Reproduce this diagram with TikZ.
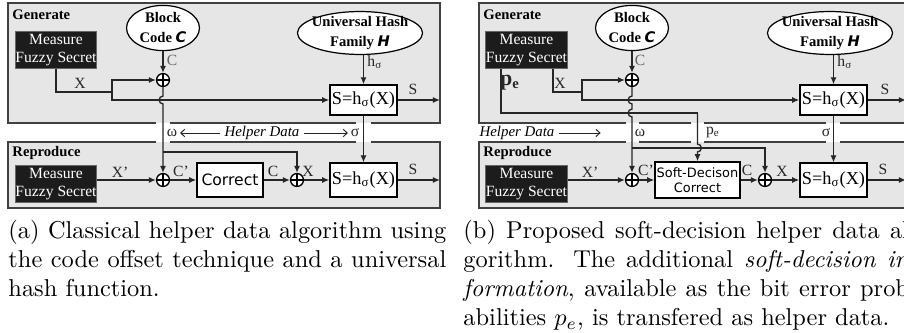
\documentclass[tikz,border=0pt]{standalone}
\usepackage{fontspec}
\usepackage{xcolor}
\usetikzlibrary{shapes.geometric,arrows.meta}
\newfontfamily\tms{Liberation Serif}
\newfontfamily\dvs{DejaVu Sans}
\definecolor{panelgray}{HTML}{E6E6E6}
\definecolor{boxblack}{HTML}{1C1C1C}
\newcommand{\FGen}{\fontsize{6}{7}\selectfont\tms\bfseries}
\newcommand{\FEll}{\fontsize{6}{8.2}\selectfont\tms\bfseries}
\newcommand{\FMea}{\fontsize{6.4}{7.4}\selectfont\tms}
\newcommand{\FSh}{\fontsize{7.5}{9}\selectfont\tms}
\newcommand{\FLab}{\fontsize{6.4}{7.5}\selectfont\tms}
\newcommand{\FHlp}{\fontsize{6.1}{7}\selectfont\tms\itshape}
\newcommand{\FCor}{\fontsize{6.4}{7.5}\selectfont\dvs}
\newcommand{\FSoft}{\fontsize{5.3}{6.4}\selectfont\dvs}
\newcommand{\FCap}{\fontsize{10}{12}\selectfont}
\newcommand{\KC}{{\dvs\bfseries\itshape C}}
\newcommand{\KH}{{\dvs\bfseries\itshape H}}

\begin{document}
\begin{tikzpicture}[x=0.41pt,y=-0.41pt]
\tikzstyle{panelline}=[draw=black!75,line width=0.6pt]
\tikzstyle{paneltitle}=[anchor=west,inner sep=0pt,font=\FGen]
\tikzstyle{measure}=[fill=boxblack,draw=black!60,text=white,align=center,inner sep=0pt,minimum width=33.6pt,minimum height=14.8pt,font=\FMea]
\tikzstyle{ellbox}=[ellipse,draw=black,fill=white,line width=0.5pt,inner sep=0pt]
\tikzstyle{elltext}=[align=center,inner sep=0pt,font=\FEll]
\tikzstyle{xor}=[circle,draw=black,fill=white,line width=0.55pt,inner sep=0pt,minimum size=5.3pt,
  path picture={\draw[line width=0.55pt] (path picture bounding box.north) -- (path picture bounding box.south)
  (path picture bounding box.west) -- (path picture bounding box.east);}]
\tikzstyle{hashbox}=[draw=black,fill=white,line width=0.55pt,inner sep=0pt,minimum width=27.5pt,font=\FSh]
\tikzstyle{corr}=[draw=black,fill=white,line width=0.55pt,inner sep=0pt,align=center]
\tikzstyle{lab}=[inner sep=0pt,font=\FLab,text=black!85]
\tikzstyle{sig}=[draw=black!85,line width=0.55pt]
\tikzstyle{arr}=[sig,-{Latex[length=2.9pt,width=2.5pt]}]
\tikzstyle{hlparr}=[draw=black!85,line width=0.4pt,-{Straight Barb[length=1.6pt,width=3pt]},shorten <=1.5pt,shorten >=1pt]
\tikzstyle{capt}=[anchor=base west,inner sep=0pt,align=justify,font=\FCap]

\useasboundingbox (0,0) rectangle (904,333);
\clip (0,0) rectangle (904,333);
\fill[white] (0,0) rectangle (904,333);

% ---- (a) classical ----
\fill[panelgray] (8,3) rectangle (440,123);
\fill[panelgray] (8,142) rectangle (440,208);
\draw[panelline] (156,123) -| (8,3) -| (440,123) -- (371,123) (356,123) -- (170,123);
\draw[panelline] (156,142) -| (8,208) -| (440,142) -- (371,142) (356,142) -- (170,142);

\node[paneltitle] (a-gen) at (12,15) {Generate};
\node[paneltitle] (a-rep) at (12,153) {Reproduce};
\node[measure] (a-m1) at (56,50) {Measure\\Fuzzy Secret};
\node[measure] (a-m2) at (56,184) {Measure\\Fuzzy Secret};
\node[ellbox,minimum width=29.9pt,minimum height=18.5pt] (a-bc) at (163,28) {};
\node[elltext] (a-bct) at (163,28) {Block\\Code \KC};
\node[ellbox,minimum width=51.3pt,minimum height=17.6pt] (a-uh) at (360,33) {};
\node[elltext] (a-uht) at (360,33) {Universal Hash\\Family \KH};
\node[xor] (a-x1) at (163,80) {};
\node[hashbox,minimum height=12.3pt] (a-s1) at (363.5,100) {S=h\textsubscript{σ}(X)};
\node[xor] (a-x2) at (163,180) {};
\node[corr,minimum width=27.1pt,minimum height=13.9pt,font=\FCor] (a-cor) at (230,180) {Correct};
\node[xor] (a-x3) at (297,180) {};
\node[hashbox,minimum height=13.9pt] (a-s2) at (363.5,180) {S=h\textsubscript{σ}(X)};

\coordinate (a-xs) at (112,92);
\coordinate (a-j1) at (163,100);
\coordinate (a-br) at (163,152);
\coordinate (a-o1) at (440,100);
\coordinate (a-o2) at (440,180);

\draw[arr] (a-bc) -- (a-x1);
\draw[sig] (a-m1.south) |- (a-xs);
\draw[arr] (a-xs) |- (a-x1);
\draw[arr] (a-xs) |- (a-s1);
\draw[arr] (a-s1 |- a-uh.south) -- (a-s1);
\draw[arr] (a-s1) -- (a-o1);
\draw[arr] (a-x1) -- ([yshift=1.6pt]a-j1) arc[start angle=90,end angle=270,radius=1.6pt] -- (a-x2);
\draw[arr] (a-br) -| (a-x3);
\draw[arr] (a-s1) -- (a-s2);
\draw[arr] (a-m2.east |- a-x2) -- (a-x2);
\draw[arr] (a-x2) -- (a-cor);
\draw[arr] (a-cor) -- (a-x3);
\draw[arr] (a-x3) -- (a-s2);
\draw[arr] (a-s2) -- (a-o2);

\node[lab,text=black!60] (a-lc) at (172,60) {C};
\node[lab] (a-lx) at (80,83) {X};
\node[lab,anchor=west] (a-lh) at (367,62) {h\textsubscript{σ}};
\node[lab] (a-ls) at (413,89) {S};
\node[lab] (a-lw) at (172,133) {ω};
\node[inner sep=0pt,font=\FHlp] (a-hd) at (262,133) {Helper Data};
\node[lab] (a-lsg) at (355,133) {σ};
\draw[hlparr] (a-hd) -- (a-lw);
\draw[hlparr] (a-hd) -- (a-lsg);
\node[lab] (a-lxr) at (120,172) {X’};
\node[lab] (a-lcr) at (181,171) {C’};
\node[lab] (a-lcc) at (273,171) {C};
\node[lab] (a-lxx) at (308,171) {X};
\node[lab] (a-lsr) at (413,169) {S};

% ---- (b) soft-decision ----
\fill[panelgray] (479,3) rectangle (911,123);
\fill[panelgray] (479,142) rectangle (911,208);
\draw[panelline] (626,123) -| (479,3) -| (911,123) -- (840,123) (826,123) -- (704,123) (691,123) -- (639,123);
\draw[panelline] (626,142) -| (479,208) -| (911,142) -- (840,142) (826,142) -- (704,142) (691,142) -- (639,142);

\node[paneltitle] (b-gen) at (483,15) {Generate};
\node[paneltitle] (b-rep) at (483,153) {Reproduce};
\node[measure] (b-m1) at (526.5,50) {Measure\\Fuzzy Secret};
\node[measure] (b-m2) at (526.5,184) {Measure\\Fuzzy Secret};
\node[ellbox,minimum width=29.9pt,minimum height=18.5pt] (b-bc) at (632,28) {};
\node[elltext] (b-bct) at (632,28) {Block\\Code \KC};
\node[ellbox,minimum width=51.3pt,minimum height=17.6pt] (b-uh) at (830,33) {};
\node[elltext] (b-uht) at (830,33) {Universal Hash\\Family \KH};
\node[xor] (b-x1) at (632,80) {};
\node[hashbox,minimum height=12.3pt] (b-s1) at (833.5,100) {S=h\textsubscript{σ}(X)};
\node[xor] (b-x2) at (632,180) {};
\node[corr,minimum width=34.9pt,minimum height=14.8pt,font=\FSoft] (b-sd) at (697.5,180) {Soft-Decison\\Correct};
\node[xor] (b-x3) at (765,180) {};
\node[hashbox,minimum height=13.9pt] (b-s2) at (833.5,180) {S=h\textsubscript{σ}(X)};

\coordinate (b-xs) at (582,92);
\coordinate (b-pc) at (697.5,113);
\coordinate (b-j1) at (632,100);
\coordinate (b-j2) at (632,113);
\coordinate (b-pj) at (697.5,148);
\coordinate (b-br) at (632,148);
\coordinate (b-o1) at (906,100);
\coordinate (b-o2) at (906,180);
\coordinate (b-ha) at (603,133);

\draw[arr] (b-bc) -- (b-x1);
\draw[sig] (b-m1.south east) ++(-15,0) |- (b-xs);
\draw[arr] (b-xs) |- (b-x1);
\draw[arr] (b-xs) |- (b-s1);
\draw[arr] (b-s1 |- b-uh.south) -- (b-s1);
\draw[arr] (b-s1) -- (b-o1);
\draw[sig] (b-m1.south west) ++(16,0) |- (b-pc);
\draw[arr] (b-x1) -- ([yshift=1.6pt]b-j1) arc[start angle=90,end angle=270,radius=1.6pt]
  -- ([yshift=1.6pt]b-j2) arc[start angle=90,end angle=270,radius=1.6pt] -- (b-x2);
\draw[arr] (b-br) -| (b-x3);
\draw[arr] (b-pc) -- ([yshift=1.6pt]b-pj) arc[start angle=90,end angle=-90,radius=1.6pt] -- (b-sd);
\draw[arr] (b-s1) -- (b-s2);
\draw[arr] (b-m2.east |- b-x2) -- (b-x2);
\draw[arr] (b-x2) -- (b-sd);
\draw[arr] (b-sd) -- (b-x3);
\draw[arr] (b-x3) -- (b-s2);
\draw[arr] (b-s2) -- (b-o2);

\node[lab,font=\fontsize{9}{10}\selectfont\tms\bfseries] (b-lpe) at (510,83) {p\textsubscript{e}};
\node[lab] (b-lx) at (560,83) {X};
\node[lab,text=black!60] (b-lc) at (640,60) {C};
\node[lab,anchor=west] (b-lh) at (837,62) {h\textsubscript{σ}};
\node[lab] (b-ls) at (885,89) {S};
\node[inner sep=0pt,font=\FHlp] (b-hd) at (517,133) {Helper Data};
\draw[hlparr] (b-hd) -- (b-ha);
\node[lab] (b-lw) at (640,133) {ω};
\node[lab] (b-lp) at (713,132) {p\textsubscript{e}};
\node[lab] (b-lsg) at (826,133) {σ};
\node[lab] (b-lxr) at (590,172) {X’};
\node[lab] (b-lcr) at (646,170) {C’};
\node[lab] (b-lcc) at (747,170) {C};
\node[lab] (b-lxx) at (782,171) {X};
\node[lab] (b-lsr) at (883,169) {S};

% ---- captions ----
\node[capt,text width=179.5pt] (a-cap) at (8,238) {(a) Classical helper data algorithm using\linebreak the code offset technique and a universal\linebreak hash function.};
\node[capt,text width=186pt] (b-cap) at (463,238) {(b) Proposed soft-decision helper data al-\linebreak gorithm. The additional \emph{soft-decision in-}\linebreak\emph{formation}, available as the bit error prob-\linebreak abilities $p_e$, is transfered as helper data.};
\end{tikzpicture}
\end{document}
